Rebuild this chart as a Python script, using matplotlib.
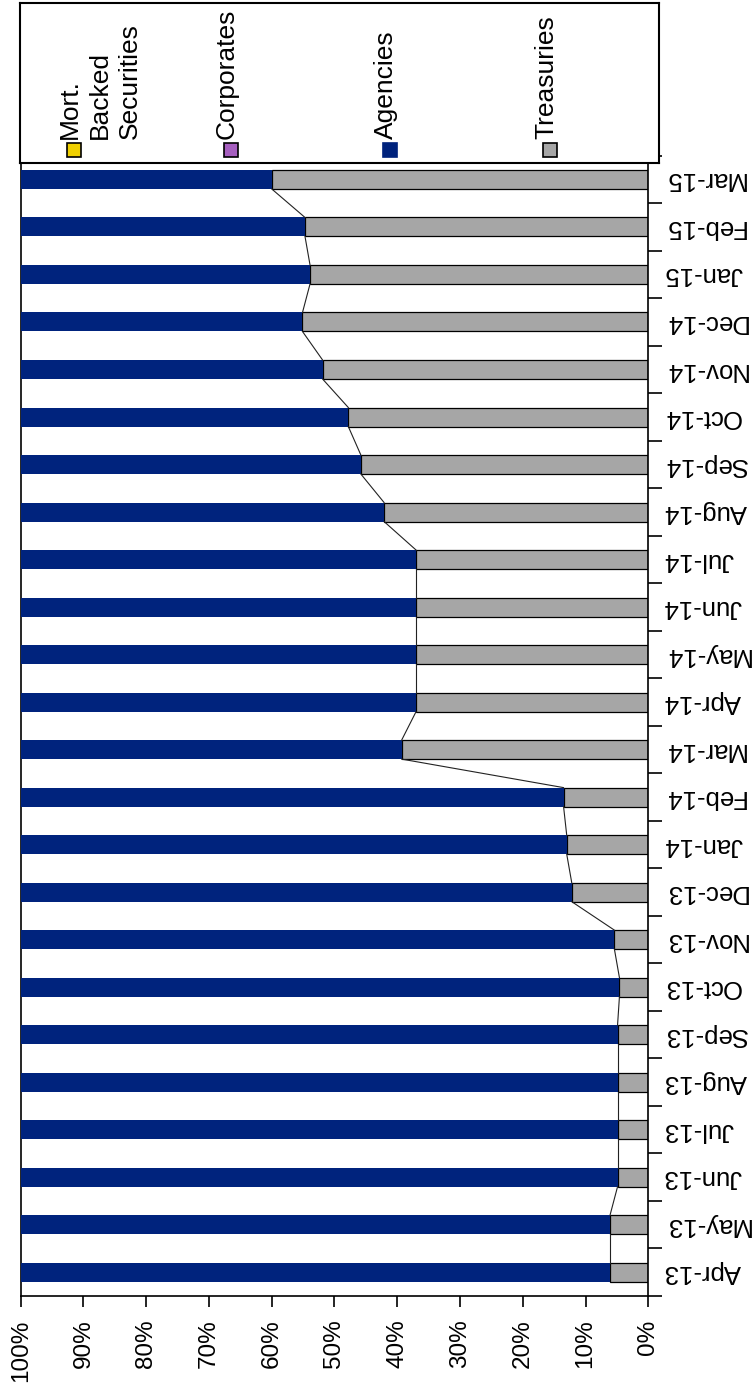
import numpy as np
import matplotlib.pyplot as plt
from matplotlib.patches import Rectangle
from matplotlib.ticker import FixedLocator

plt.rcParams['font.family'] = ['Liberation Sans', 'DejaVu Sans']

# Monthly portfolio mix, share of holdings in percent
months = ['Apr-13', 'May-13', 'Jun-13', 'Jul-13', 'Aug-13', 'Sep-13',
          'Oct-13', 'Nov-13', 'Dec-13', 'Jan-14', 'Feb-14', 'Mar-14',
          'Apr-14', 'May-14', 'Jun-14', 'Jul-14', 'Aug-14', 'Sep-14',
          'Oct-14', 'Nov-14', 'Dec-14', 'Jan-15', 'Feb-15', 'Mar-15']
treasuries = [6.1, 6.1, 4.9, 4.9, 4.9, 4.9, 4.6, 5.4, 12.2, 13.0, 13.5, 39.3,
              37.0, 37.0, 37.0, 37.0, 42.1, 45.8, 47.8, 51.9, 55.1, 53.9,
              54.7, 60.0]
agencies = [100 - t for t in treasuries]
corporates = [0.0] * len(months)
mbs = [0.0] * len(months)

series_names = ['Mort.\nBacked\nSecurities', 'Corporates', 'Agencies', 'Treasuries']
series_colors = ['#F0D000', '#A65FBF', '#00237D', '#A6A6A6']

W, H = 755, 1389
fig = plt.figure(figsize=(W / 100, H / 100), dpi=100)

# Plot area (whole chart is laid out sideways)
ax = fig.add_axes([20.7 / W, 1 - 1296 / H, (648.3 - 20.7) / W, (1296 - 155.7) / H])
y = np.arange(len(months))
bar_h = 0.4

ax.barh(y, treasuries, height=bar_h, color=series_colors[3],
        edgecolor='black', linewidth=0.9, zorder=2)
ax.barh(y, agencies, left=treasuries, height=bar_h, color=series_colors[2],
        linewidth=0, zorder=3)
ax.barh(y, corporates, left=100, height=bar_h, color=series_colors[1], zorder=3)
ax.barh(y, mbs, left=100, height=bar_h, color=series_colors[0], zorder=3)

# Series lines joining the Treasuries boundaries of neighbouring bars
for i in range(len(months) - 1):
    ax.plot([treasuries[i], treasuries[i + 1]],
            [y[i] + bar_h / 2, y[i + 1] - bar_h / 2],
            color='#222222', linewidth=0.8, zorder=4)

ax.set_xlim(100, 0)
ax.set_ylim(-0.5, len(months) - 0.5)

ax.set_xticks(np.arange(0, 101, 10))
ax.set_xticklabels([f'{v}%' for v in range(0, 101, 10)], rotation=90)
ax.tick_params(axis='x', direction='out', length=8, width=1.2, pad=9,
               labelsize=17.5)

ax.yaxis.tick_right()
ax.set_yticks(y)
ax.set_yticklabels(months)
for lbl in ax.get_yticklabels():
    lbl.set_rotation(180)
    lbl.set_rotation_mode('default')
    lbl.set_horizontalalignment('left')
    lbl.set_verticalalignment('center')
ax.yaxis.set_minor_locator(FixedLocator(np.arange(-0.5, len(months), 1)))
ax.tick_params(axis='y', which='major', length=0, pad=11, labelsize=18.5)
ax.tick_params(axis='y', which='minor', direction='out', length=10, width=1.2)

for side in ['left', 'right', 'bottom']:
    ax.spines[side].set_linewidth(1.2)
ax.spines['top'].set_visible(False)

# Legend panel drawn over the top of the plot area
lax = fig.add_axes([20 / W, 1 - 163 / H, 639 / W, 160 / H])
lax.set_xlim(0, 639)
lax.set_ylim(160, 0)
lax.set_xticks([])
lax.set_yticks([])
lax.set_facecolor('white')
for s in lax.spines.values():
    s.set_linewidth(1.5)

entry_x = [47, 204, 363, 523]
for name, color, x0 in zip(series_names, series_colors, entry_x):
    lax.add_patch(Rectangle((x0, 140), 14, 14, facecolor=color,
                            edgecolor='black' if color != series_colors[2] else color,
                            linewidth=1.2))
    lax.text(x0 - 9, 136, name, rotation=90, rotation_mode='anchor',
             ha='left', va='top', fontsize=19, linespacing=1.3)

fig.savefig('out.png', dpi=100)
